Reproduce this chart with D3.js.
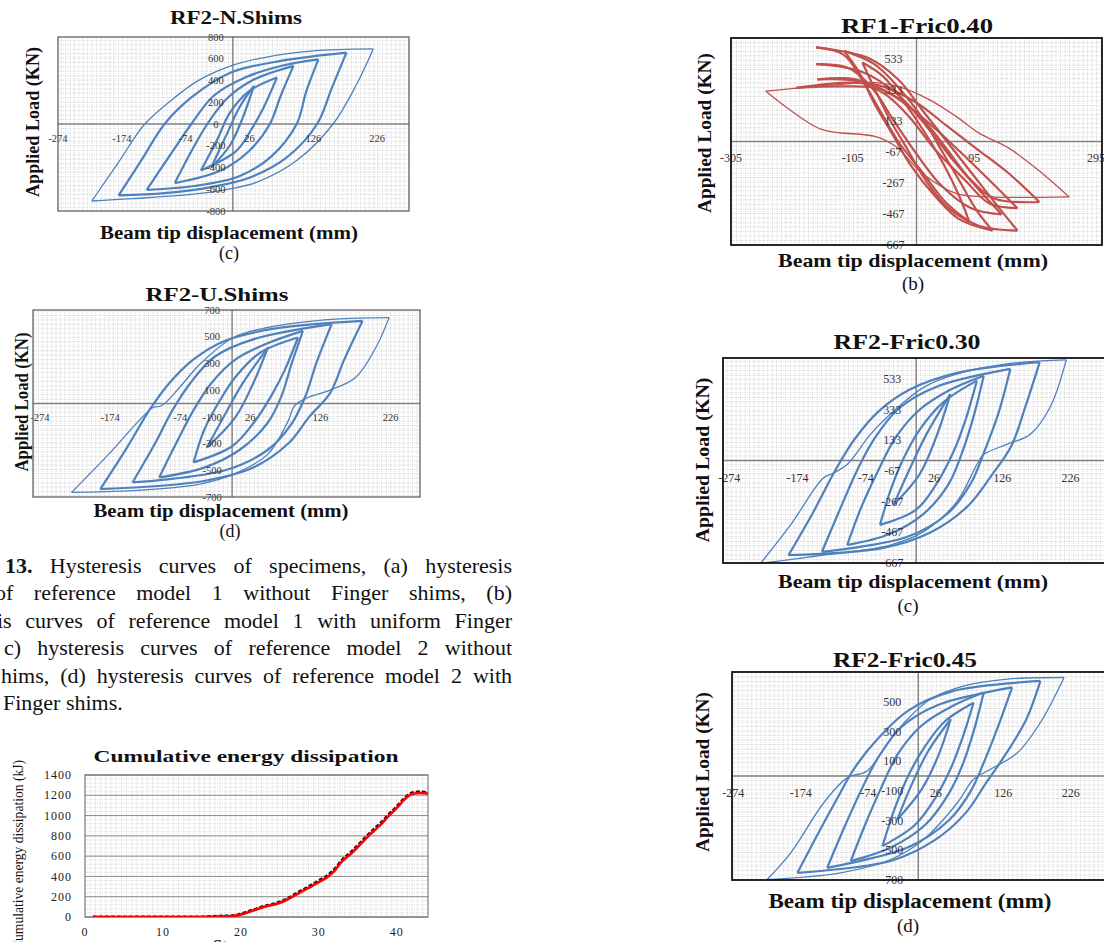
<!DOCTYPE html>
<html>
<head>
<meta charset="utf-8">
<title>Hysteresis curves</title>
<script src="https://cdnjs.cloudflare.com/ajax/libs/d3/7.8.5/d3.min.js"></script>
<style>
  body { margin: 0; background: #fff; }
  svg { display: block; font-family: "Liberation Serif", "Times New Roman", serif; }
</style>
</head>
<body>
<script>
// ---------- data (displacement mm, load kN) ----------
// every loop: negative tip -> reloading branch -> positive tip -> back
var nShimsLoops = [
  [[-221,-708],[-180,-360],[-138,0],[-91,244],[-55,397],[-3,534],[49,611],[126,672],[220,690],[194,366],[157,0],[100,-336],[38,-534],[-3,-595],[-55,-641],[-159,-687],[-221,-708]],
  [[-179,-656],[-143,-330],[-107,0],[-65,244],[-3,473],[75,580],[178,656],[155,330],[132,0],[85,-305],[28,-489],[-34,-580],[-107,-635],[-179,-656]],
  [[-135,-605],[-100,-300],[-65,0],[-30,260],[20,430],[80,540],[134,595],[115,300],[100,0],[60,-300],[10,-480],[-60,-570],[-135,-605]],
  [[-91,-543],[-65,-250],[-40,0],[-10,230],[30,400],[95,534],[75,260],[58,0],[25,-250],[-20,-430],[-91,-543]],
  [[-50,-427],[-25,-150],[-5,100],[25,300],[69,427],[48,150],[28,-60],[5,-250],[-50,-427]],
  [[-34,-400],[-10,-100],[10,150],[33,350],[15,50],[-5,-200],[-34,-400]]
];
var uShimsLoops = [
  [[-229,-666],[-176,-379],[-133,-130],[-113,-30],[-100,-15],[-75,120],[-46,294],[2,494],[51,569],[147,631],[224,643],[205,419],[176,195],[137,95],[108,45],[89,-17],[80,-130],[51,-379],[2,-529],[-46,-603],[-142,-653],[-229,-666]],
  [[-188,-641],[-150,-330],[-118,-50],[-90,150],[-55,330],[-10,470],[60,560],[186,618],[160,330],[140,80],[110,-100],[80,-300],[30,-480],[-40,-580],[-188,-641]],
  [[-142,-591],[-110,-300],[-85,-50],[-60,150],[-25,350],[30,480],[142,594],[120,300],[105,60],[85,-150],[50,-350],[-10,-500],[-142,-591]],
  [[-104,-554],[-80,-300],[-55,-50],[-30,150],[5,330],[50,450],[101,544],[85,300],[70,50],[50,-150],[10,-350],[-40,-480],[-104,-554]],
  [[-55,-441],[-40,-200],[-20,0],[5,200],[40,380],[94,494],[75,250],[55,50],[30,-150],[0,-320],[-55,-441]],
  [[-36,-330],[-10,-80],[15,150],[51,419],[30,150],[5,-100],[-36,-330]]
];
// RF1: right tip -> up-left branch -> left tip -> back
var fric040Loops = [
  [[251,-357],[207,-206],[152,-43],[103,54],[65,162],[21,270],[-23,346],[-67,379],[-120,370],[-248,325],[-209,206],[-155,76],[-67,32],[-34,-32],[10,-206],[65,-335],[119,-357],[251,-357]],
  [[202,-390],[150,-200],[100,-50],[50,100],[0,250],[-60,360],[-110,380],[-198,346],[-120,355],[-60,340],[-20,250],[20,100],[50,-50],[90,-250],[130,-370],[202,-390]],
  [[166,-574],[130,-400],[90,-200],[50,0],[10,200],[-30,400],[-80,540],[-165,606],[-120,560],[-90,400],[-60,200],[-30,0],[10,-200],[50,-400],[100,-540],[166,-574]],
  [[125,-574],[100,-450],[70,-250],[40,-50],[10,150],[-30,350],[-70,500],[-119,584],[-95,450],[-70,250],[-40,50],[-10,-150],[30,-350],[70,-500],[125,-574]],
  [[87,-519],[70,-350],[45,-150],[15,50],[-20,250],[-55,420],[-89,509],[-70,350],[-45,150],[-15,-50],[15,-250],[50,-420],[87,-519]],
  [[140,-470],[100,-300],[60,-120],[20,80],[-30,300],[-90,450],[-165,498],[-110,470],[-70,330],[-40,150],[0,-80],[40,-280],[90,-430],[140,-470]],
  [[166,-430],[120,-250],[70,-60],[20,120],[-40,300],[-100,400],[-163,400],[-100,390],[-50,300],[-10,150],[30,-50],[80,-250],[120,-400],[166,-430]]
];
var fric030Loops = [
  [[-228,-670],[-184,-419],[-136,-114],[-121,-81],[-101,-26],[-67,170],[-38,301],[11,476],[60,563],[133,629],[220,655],[196,345],[167,170],[133,105],[99,39],[89,-26],[60,-266],[11,-463],[-38,-550],[-136,-616],[-228,-670]],
  [[-187,-616],[-150,-330],[-118,-60],[-90,140],[-55,320],[-10,460],[60,570],[181,640],[160,350],[140,100],[110,-100],[75,-300],[20,-470],[-50,-570],[-187,-616]],
  [[-138,-594],[-110,-300],[-85,-50],[-60,150],[-25,340],[30,480],[138,596],[120,300],[100,60],[80,-150],[45,-350],[-15,-500],[-138,-594]],
  [[-101,-550],[-80,-300],[-55,-60],[-30,150],[5,330],[50,460],[99,552],[85,300],[68,60],[48,-150],[10,-350],[-40,-480],[-101,-550]],
  [[-53,-419],[-38,-200],[-20,0],[5,200],[40,380],[89,520],[72,260],[55,60],[30,-150],[0,-320],[-53,-419]],
  [[-33,-288],[-10,-60],[15,170],[50,432],[30,160],[5,-90],[-33,-288]]
];
var fric045Loops = [
  [[-224,-697],[-189,-517],[-140,-180],[-105,-11],[-76,34],[-41,247],[-16,382],[18,517],[68,607],[132,652],[216,663],[181,360],[147,157],[107,45],[82,-22],[58,-180],[8,-427],[-41,-562],[-115,-652],[-224,-697]],
  [[-179,-652],[-150,-400],[-120,-150],[-95,50],[-60,250],[-15,440],[50,570],[181,640],[160,380],[130,150],[100,-50],[70,-250],[25,-430],[-40,-570],[-179,-652]],
  [[-135,-618],[-110,-350],[-85,-100],[-60,120],[-25,330],[30,480],[139,596],[118,330],[98,100],[78,-100],[45,-300],[-15,-480],[-135,-618]],
  [[-100,-573],[-78,-320],[-55,-80],[-30,150],[5,340],[50,470],[97,562],[82,300],[66,80],[45,-120],[10,-330],[-40,-480],[-100,-573]],
  [[-53,-472],[-35,-220],[-15,0],[10,200],[40,370],[82,494],[65,250],[48,50],[25,-150],[-5,-330],[-53,-472]],
  [[-31,-292],[-10,-60],[15,170],[48,382],[30,140],[5,-90],[-31,-292]]
];

// tick labels
var xTicksRF2 = [-274, -174, -74, 26, 126, 226];
var xTicksRF1 = [-305, -105, 95, 295];
var yTicksN = [800, 600, 400, 200, 0, -200, -400, -600, -800];
var yTicksU = [700, 500, 300, 100, -100, -300, -500, -700];
var yTicks045 = [500, 300, 100, -100, -300, -500, -700];
var yTicks667 = [533, 333, 133, -67, -267, -467, -667];

// cumulative energy (kJ) per step
var energySteps = [1,2,3,4,5,6,7,8,9,10,11,12,13,14,15,16,17,18,19,20,21,22,23,24,25,26,27,28,29,30,31,32,33,34,35,36,37,38,39,40,41,42,43,44];
var energyRed   = [0,0,0,0,0,0,0,0,0,0,0,0,0,0,0,2,4,6,10,24,50,75,100,118,140,175,215,260,300,345,388,455,550,615,690,770,845,915,1000,1075,1160,1215,1222,1218];
var energyBlack = [0,0,0,0,0,0,0,0,0,0,0,0,0,0,0,4,8,10,12,30,56,80,106,124,148,182,226,270,312,358,402,470,562,630,705,785,860,930,1012,1088,1170,1225,1234,1224];
var energyYTicks = [0, 200, 400, 600, 800, 1000, 1200, 1400];
var energyXTicks = [0, 10, 20, 30, 40];

var captionLines = [
  ["13.", " Hysteresis curves of specimens, (a) hysteresis"],
  ["", "of reference model 1 without Finger shims, (b)"],
  ["", "is curves of reference model 1 with uniform Finger"],
  ["", "c) hysteresis curves of reference model 2 without"],
  ["", "hims, (d) hysteresis curves of reference model 2 with"],
  ["", "Finger shims."]
];

// ---------- drawing ----------
var W = 1104, H = 942;
var blue = "#4f81bd", red = "#c0504d";
var svg = d3.select("body").append("svg").attr("width", W).attr("height", H);

function txt(g, s, x, y, o) {
  var t = g.append("text").attr("x", x).attr("y", y).text(s)
    .attr("font-size", o.size).attr("text-anchor", o.anchor || "middle")
    .attr("fill", o.fill || "#111");
  if (o.bold) t.attr("font-weight", "bold");
  if (o.len) t.attr("textLength", o.len).attr("lengthAdjust", "spacingAndGlyphs");
  if (o.rot) t.attr("transform", "rotate(-90," + x + "," + y + ")");
  return t;
}

var panels = [
  {id:"p1", title:"RF2-N.Shims", tag:"(c)", loops:nShimsLoops, color:blue, xTicks:xTicksRF2, yTicks:yTicksN,
   box:[58,37,409,211], xDom:[-274,276], yDom:[-800,800], frame:"#555", frameW:1.2,
   t:[236,24,132,18], xl:[229,239,258,18], tg:[229,259,18], yl:[39,122,150,18],
   tickSize:10.5, yLabDx:-17, xLabDy:14, gpx:4.4},
  {id:"p2", title:"RF2-U.Shims", tag:"(d)", loops:uShimsLoops, color:blue, xTicks:xTicksRF2, yTicks:yTicksU,
   box:[33,310,420,497], xDom:[-284,268], yDom:[-700,700], frame:"#555", frameW:1.2,
   t:[217,301,143,19], xl:[221,517,255,18], tg:[230,537,18], yl:[28,402,139,18],
   tickSize:10.5, yLabDx:-20, xLabDy:14, gpx:4.4},
  {id:"p3", title:"RF1-Fric0.40", tag:"(b)", loops:fric040Loops, color:red, xTicks:xTicksRF1, yTicks:yTicks667,
   box:[731,38,1102,245], xDom:[-305,305], yDom:[-667,667], frame:"#111", frameW:1.8,
   t:[917,33,152,20], xl:[913,267,270,19], tg:[913,290,19], yl:[711,133,160,19],
   tickSize:12, yLabDx:-23, xLabDy:16, gpx:4.5},
  {id:"p4", title:"RF2-Fric0.30", tag:"(c)", loops:fric030Loops, color:blue, xTicks:xTicksRF2, yTicks:yTicks667,
   box:[723,358,1110,563], xDom:[-283,284], yDom:[-667,667], frame:"#111", frameW:1.8,
   t:[907,349,147,20], xl:[913,588,270,19], tg:[908,612,19], yl:[709,460,165,19],
   tickSize:12, yLabDx:-24, xLabDy:17, gpx:4.5},
  {id:"p5", title:"RF2-Fric0.45", tag:"(d)", loops:fric045Loops, color:blue, xTicks:xTicksRF2, yTicks:yTicks045,
   box:[732,672,1114,880], xDom:[-276,290], yDom:[-700,700], frame:"#111", frameW:1.8,
   t:[905,667,144,20], xl:[910,908,283,21], tg:[908,932,19], yl:[709,772,160,19],
   tickSize:12, yLabDx:-26, xLabDy:17, gpx:4.5}
];

var defs = svg.append("defs");

panels.forEach(function (p) {
  var x0 = p.box[0], y0 = p.box[1], x1 = p.box[2], y1 = p.box[3];
  var xs = d3.scaleLinear().domain(p.xDom).range([x0, x1]);
  var ys = d3.scaleLinear().domain(p.yDom).range([y1, y0]);
  var g = svg.append("g");
  var ax = xs(0), ay = ys(0);

  defs.append("clipPath").attr("id", "clip-" + p.id)
    .append("rect").attr("x", x0).attr("y", y0).attr("width", x1 - x0).attr("height", y1 - y0);

  // fine grid anchored on the axes
  var grid = g.append("g").attr("clip-path", "url(#clip-" + p.id + ")")
    .attr("stroke", "#c8c8c8").attr("stroke-width", 0.7).attr("stroke-dasharray", "1.2,1.2");
  d3.range(ax - Math.floor((ax - x0) / p.gpx) * p.gpx, x1, p.gpx).forEach(function (gx) {
    grid.append("line").attr("x1", gx).attr("x2", gx).attr("y1", y0).attr("y2", y1);
  });
  d3.range(ay - Math.floor((ay - y0) / p.gpx) * p.gpx, y1, p.gpx).forEach(function (gy) {
    grid.append("line").attr("y1", gy).attr("y2", gy).attr("x1", x0).attr("x2", x1);
  });

  // zero axes
  g.append("line").attr("x1", x0).attr("x2", x1).attr("y1", ay).attr("y2", ay)
    .attr("stroke", "#808080").attr("stroke-width", 1.4);
  g.append("line").attr("x1", ax).attr("x2", ax).attr("y1", y0).attr("y2", y1)
    .attr("stroke", "#808080").attr("stroke-width", 1.4);

  // loops, each split into its two branches at the far tip
  var line = d3.line().x(function (d) { return xs(d[0]); }).y(function (d) { return ys(d[1]); })
    .curve(d3.curveCatmullRom.alpha(0.5));
  var lg = g.append("g").attr("clip-path", "url(#clip-" + p.id + ")")
    .attr("fill", "none").attr("stroke", p.color).attr("stroke-linejoin", "round");
  p.loops.forEach(function (pts, i) {
    var far = d3.maxIndex(pts, function (d) { return Math.abs(d[0] - pts[0][0]); });
    [pts.slice(0, far + 1), pts.slice(far)].forEach(function (br) {
      lg.append("path").attr("d", line(br)).attr("stroke-width", i === 0 ? 1.3 : 2.2);
    });
  });

  // tick labels
  var tl = g.append("g").attr("font-size", p.tickSize).attr("fill", "#333");
  p.yTicks.forEach(function (v) {
    tl.append("text").attr("x", ax + p.yLabDx).attr("y", ys(v)).attr("dy", "0.35em")
      .attr("text-anchor", "middle").text(v);
  });
  p.xTicks.forEach(function (v) {
    tl.append("text").attr("x", xs(v)).attr("y", ay + p.xLabDy).attr("dy", "0.35em")
      .attr("text-anchor", "middle").text(v);
  });

  // frame
  g.append("rect").attr("x", x0).attr("y", y0).attr("width", x1 - x0).attr("height", y1 - y0)
    .attr("fill", "none").attr("stroke", p.frame).attr("stroke-width", p.frameW);

  txt(g, p.title, p.t[0], p.t[1], {size: p.t[3], bold: true, len: p.t[2]});
  txt(g, "Beam tip displacement (mm)", p.xl[0], p.xl[1], {size: p.xl[3], bold: true, len: p.xl[2]});
  txt(g, p.tag, p.tg[0], p.tg[1], {size: p.tg[2]});
  txt(g, "Applied Load (KN)", p.yl[0], p.yl[1], {size: p.yl[3], bold: true, len: p.yl[2], rot: true});
});

// ---------- caption ----------
var cap = svg.append("g").attr("font-size", 22).attr("fill", "#111");
var capStart = [5, -5, -3, 4, 1, 3];
captionLines.forEach(function (ln, i) {
  var y = 573 + i * 27.4;
  var t = cap.append("text").attr("x", capStart[i]).attr("y", y);
  if (ln[0]) t.append("tspan").attr("font-weight", "bold").text(ln[0]);
  t.append("tspan").text(ln[1]);
  if (i < 5) {
    var natural = t.node().getComputedTextLength();
    var spaces = (ln[0] + ln[1]).split(" ").length - 1;
    t.attr("word-spacing", ((512 - capStart[i]) - natural) / spaces);
  }
});

// ---------- cumulative energy ----------
(function () {
  var x0 = 85, x1 = 428, y0 = 775, y1 = 917;
  var xs = d3.scaleLinear().domain([0, 44]).range([x0, x1]);
  var ys = d3.scaleLinear().domain([0, 1400]).range([y1, y0]);
  var g = svg.append("g");

  defs.append("clipPath").attr("id", "clip-en")
    .append("rect").attr("x", x0).attr("y", y0).attr("width", x1 - x0).attr("height", y1 - y0);

  var grid = g.append("g").attr("stroke", "#cdcdcd").attr("stroke-width", 0.7).attr("stroke-dasharray", "1.2,1.2");
  d3.range(0, 44, 2 / 3).forEach(function (v) {
    grid.append("line").attr("x1", xs(v)).attr("x2", xs(v)).attr("y1", y0).attr("y2", y1);
  });
  d3.range(0, 1400, 40).forEach(function (v) {
    grid.append("line").attr("y1", ys(v)).attr("y2", ys(v)).attr("x1", x0).attr("x2", x1);
  });
  energyYTicks.forEach(function (v) {
    g.append("line").attr("x1", x0).attr("x2", x1).attr("y1", ys(v)).attr("y2", ys(v))
      .attr("stroke", "#8c8c8c").attr("stroke-width", 1);
  });
  g.append("rect").attr("x", x0).attr("y", y0).attr("width", x1 - x0).attr("height", y1 - y0)
    .attr("fill", "none").attr("stroke", "#666").attr("stroke-width", 1);

  var mk = function (vals) {
    return d3.line().x(function (d, i) { return xs(energySteps[i]); })
      .y(function (d) { return ys(d); }).curve(d3.curveMonotoneX)(vals);
  };
  var lg = g.append("g").attr("clip-path", "url(#clip-en)").attr("fill", "none");
  lg.append("path").attr("d", mk(energyBlack)).attr("stroke", "#111").attr("stroke-width", 3)
    .attr("stroke-dasharray", "4,2");
  lg.append("path").attr("d", mk(energyRed)).attr("stroke", "#ff0000").attr("stroke-width", 2.6);

  var tl = g.append("g").attr("font-size", 12).attr("fill", "#222").attr("letter-spacing", 1);
  energyYTicks.forEach(function (v) {
    tl.append("text").attr("x", 72).attr("y", ys(v)).attr("dy", "0.35em").attr("text-anchor", "end").text(v);
  });
  energyXTicks.forEach(function (v) {
    tl.append("text").attr("x", xs(v)).attr("y", 932).attr("dy", "0.35em").attr("text-anchor", "middle").text(v);
  });

  txt(g, "Cumulative energy dissipation", 246, 762, {size: 17, bold: true, len: 305});
  txt(g, "Cumulative energy dissipation (kJ)", 23, 760, {size: 14, len: 190, rot: true, anchor: "end"});
  txt(g, "Step", 213, 951, {size: 16, bold: true, anchor: "start"});
})();
</script>
</body>
</html>
